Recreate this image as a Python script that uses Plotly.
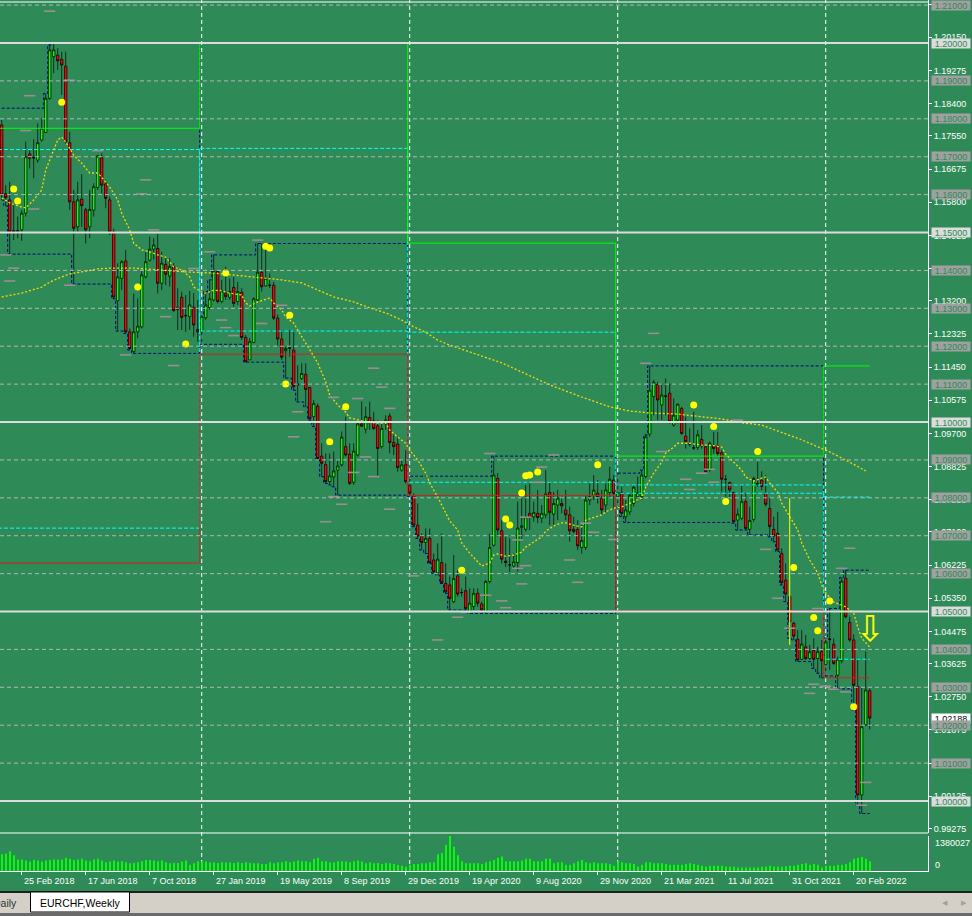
import pandas as pd
import plotly.graph_objects as go

# ---------------------------------------------------------------- data
first_bar = "2018-01-21"          # MT4 weekly bars are dated on Sundays

opens = [
    1.1784,1.1602,1.1586,1.1505,1.1502,1.1507,1.1551,1.1707,1.1696,1.1691,
    1.1744,1.1764,1.1854,1.1964,1.1968,1.1957,1.1939,1.1737,1.1581,1.1515,
    1.1588,1.1560,1.1515,1.1559,1.1619,1.1697,1.1628,1.1586,1.1502,1.1320,
    1.1379,1.1425,1.1238,1.1186,1.1238,1.1251,1.1383,1.1427,1.1456,1.1458,
    1.1366,1.1416,1.1385,1.1410,1.1303,1.1329,1.1280,1.1278,1.1303,1.1244,
    1.1238,1.1275,1.1302,1.1322,1.1397,1.1318,1.1340,1.1329,1.1355,1.1318,
    1.1342,1.1223,1.1164,1.1210,1.1322,1.1395,1.1359,1.1360,1.1361,1.1274,
    1.1219,1.1188,1.1194,1.1190,1.1098,1.1115,1.1126,1.1091,1.1014,1.1042,
    1.0910,1.0888,1.0843,1.0855,1.0873,1.0887,1.0935,1.0915,1.0841,1.0913,
    1.0995,1.0981,1.1012,1.1003,1.0990,1.0935,1.0995,1.1016,1.0946,1.0942,
    1.0873,1.0887,1.0834,1.0806,1.0728,1.0699,1.0682,1.0693,1.0636,1.0602,
    1.0629,1.0574,1.0570,1.0526,1.0594,1.0550,1.0555,1.0500,1.0513,1.0548,
    1.0520,1.0500,1.0579,1.0675,1.0851,1.0713,1.0633,1.0623,1.0620,1.0629,
    1.0722,1.0717,1.0759,1.0750,1.0759,1.0746,1.0755,1.0814,1.0757,1.0781,
    1.0785,1.0768,1.0755,1.0717,1.0717,1.0669,1.0669,1.0794,1.0807,1.0812,
    1.0799,1.0781,1.0814,1.0847,1.0803,1.0814,1.0750,1.0763,1.0785,1.0803,
    1.0803,1.0856,1.0968,1.1067,1.1099,1.1045,1.1067,1.1076,1.0992,1.1005,
    1.1036,1.0963,1.0942,1.0931,1.0933,1.0954,1.0935,1.0873,1.0937,1.0937,
    1.0919,1.0849,1.0840,1.0814,1.0741,1.0746,1.0790,1.0717,1.0743,1.0838,
    1.0846,1.0812,1.0772,1.0717,1.0706,1.0653,1.0583,1.0539,1.0469,1.0427,
    1.0374,1.0407,1.0376,1.0397,1.0376,1.0394,1.0360,1.0428,1.0414,1.0332,
    1.0370,1.0588,1.0471,1.0425,1.0302,1.0016,1.0201,1.0291,
]
highs = [
    1.1797,1.1625,1.1634,1.1577,1.1542,1.1559,1.1740,1.1718,1.1746,1.1788,
    1.1801,1.1867,1.1995,1.2000,1.1986,1.1977,1.1977,1.1766,1.1612,1.1634,
    1.1654,1.1565,1.1612,1.1630,1.1705,1.1709,1.1639,1.1595,1.1510,1.1419,
    1.1427,1.1454,1.1247,1.1339,1.1326,1.1401,1.1449,1.1489,1.1485,1.1496,
    1.1449,1.1436,1.1432,1.1419,1.1353,1.1344,1.1335,1.1346,1.1340,1.1322,
    1.1282,1.1344,1.1375,1.1441,1.1401,1.1375,1.1410,1.1379,1.1383,1.1370,
    1.1353,1.1230,1.1221,1.1329,1.1471,1.1471,1.1463,1.1392,1.1370,1.1284,
    1.1243,1.1199,1.1243,1.1243,1.1150,1.1155,1.1155,1.1093,1.1058,1.1049,
    1.0944,1.0917,1.0917,1.0922,1.0900,1.0975,1.1014,1.0944,1.0944,1.1001,
    1.1054,1.1040,1.1054,1.1027,1.1005,1.0996,1.1018,1.1023,1.0966,1.0961,
    1.0900,1.0926,1.0857,1.0812,1.0785,1.0706,1.0719,1.0719,1.0653,1.0680,
    1.0706,1.0627,1.0592,1.0649,1.0609,1.0561,1.0592,1.0561,1.0561,1.0561,
    1.0526,1.0583,1.0706,1.0910,1.0865,1.0741,1.0697,1.0693,1.0653,1.0790,
    1.0803,1.0834,1.0838,1.0790,1.0821,1.0781,1.0873,1.0843,1.0816,1.0821,
    1.0803,1.0821,1.0777,1.0750,1.0741,1.0728,1.0807,1.0838,1.0860,1.0847,
    1.0821,1.0838,1.0882,1.0860,1.0865,1.0829,1.0794,1.0812,1.0834,1.0856,
    1.0873,1.0966,1.1148,1.1111,1.1106,1.1102,1.1115,1.1102,1.1062,1.1049,
    1.1040,1.1014,1.0983,1.1027,1.0979,1.0992,1.0939,1.0948,1.0974,1.0974,
    1.0926,1.0860,1.0843,1.0816,1.0772,1.0834,1.0812,1.0777,1.0856,1.0895,
    1.0870,1.0860,1.0799,1.0750,1.0763,1.0667,1.0627,1.0544,1.0473,1.0451,
    1.0451,1.0438,1.0412,1.0429,1.0407,1.0425,1.0430,1.0508,1.0429,1.0381,
    1.0590,1.0609,1.0486,1.0440,1.0376,1.0300,1.0394,1.0297,
]
lows = [
    1.1586,1.1570,1.1443,1.1480,1.1485,1.1478,1.1542,1.1669,1.1643,1.1684,
    1.1740,1.1762,1.1850,1.1920,1.1929,1.1863,1.1735,1.1560,1.1364,1.1502,
    1.1515,1.1471,1.1485,1.1542,1.1612,1.1603,1.1564,1.1493,1.1325,1.1240,
    1.1348,1.1234,1.1190,1.1181,1.1221,1.1247,1.1379,1.1423,1.1429,1.1339,
    1.1348,1.1361,1.1357,1.1291,1.1243,1.1243,1.1238,1.1243,1.1225,1.1212,
    1.1205,1.1269,1.1297,1.1318,1.1313,1.1313,1.1322,1.1322,1.1304,1.1309,
    1.1216,1.1158,1.1164,1.1208,1.1318,1.1344,1.1357,1.1353,1.1269,1.1203,
    1.1164,1.1116,1.1172,1.1084,1.1053,1.1111,1.1040,1.1005,1.0988,1.0900,
    1.0856,1.0838,1.0834,1.0829,1.0807,1.0882,1.0909,1.0834,1.0834,1.0909,
    1.0988,1.0970,1.0979,1.0979,1.0858,1.0930,1.0979,1.0917,1.0913,1.0869,
    1.0869,1.0838,1.0803,1.0724,1.0693,1.0662,1.0653,1.0627,1.0601,1.0596,
    1.0574,1.0548,1.0504,1.0522,1.0539,1.0539,1.0504,1.0495,1.0504,1.0513,
    1.0500,1.0497,1.0574,1.0671,1.0697,1.0627,1.0618,1.0605,1.0614,1.0605,
    1.0689,1.0711,1.0715,1.0737,1.0733,1.0733,1.0746,1.0728,1.0726,1.0741,
    1.0759,1.0741,1.0684,1.0706,1.0662,1.0653,1.0662,1.0781,1.0794,1.0785,
    1.0755,1.0763,1.0799,1.0772,1.0777,1.0750,1.0735,1.0755,1.0777,1.0790,
    1.0794,1.0851,1.0961,1.1018,1.1005,1.1005,1.1018,1.0996,1.0988,1.0996,
    1.0966,1.0930,1.0935,1.0926,1.0926,1.0930,1.0865,1.0869,1.0917,1.0909,
    1.0816,1.0803,1.0799,1.0733,1.0715,1.0741,1.0715,1.0702,1.0737,1.0829,
    1.0820,1.0777,1.0697,1.0684,1.0658,1.0570,1.0526,1.0429,1.0425,1.0368,
    1.0372,1.0372,1.0372,1.0350,1.0337,1.0325,1.0330,1.0346,1.0359,1.0296,
    1.0363,1.0482,1.0420,1.0240,0.9989,0.9967,1.0198,1.0189,
]
closes = [
    1.1599,1.1592,1.1502,1.1502,1.1505,1.1551,1.1700,1.1696,1.1698,1.1737,
    1.1775,1.1854,1.1982,1.1982,1.1953,1.1942,1.1740,1.1581,1.1511,1.1586,
    1.1571,1.1507,1.1561,1.1621,1.1702,1.1625,1.1590,1.1502,1.1330,1.1383,
    1.1423,1.1238,1.1194,1.1238,1.1253,1.1388,1.1423,1.1456,1.1467,1.1366,
    1.1419,1.1390,1.1410,1.1294,1.1297,1.1276,1.1281,1.1309,1.1256,1.1238,
    1.1278,1.1309,1.1325,1.1397,1.1318,1.1346,1.1331,1.1344,1.1313,1.1344,
    1.1223,1.1159,1.1212,1.1325,1.1395,1.1357,1.1379,1.1361,1.1274,1.1219,
    1.1171,1.1194,1.1196,1.1093,1.1100,1.1128,1.1086,1.1009,1.1049,1.0904,
    1.0891,1.0843,1.0858,1.0871,1.0884,1.0960,1.0913,1.0838,1.0923,1.0995,
    1.0989,1.1014,1.0998,1.0983,1.0930,1.0983,1.1005,1.0946,1.0935,1.0880,
    1.0887,1.0843,1.0812,1.0728,1.0699,1.0682,1.0693,1.0629,1.0605,1.0638,
    1.0576,1.0552,1.0534,1.0587,1.0546,1.0550,1.0508,1.0522,1.0548,1.0522,
    1.0504,1.0579,1.0669,1.0860,1.0715,1.0638,1.0629,1.0623,1.0631,1.0720,
    1.0726,1.0750,1.0748,1.0761,1.0748,1.0759,1.0810,1.0761,1.0785,1.0799,
    1.0779,1.0755,1.0713,1.0711,1.0673,1.0687,1.0794,1.0803,1.0820,1.0803,
    1.0768,1.0821,1.0849,1.0812,1.0814,1.0759,1.0768,1.0807,1.0828,1.0814,
    1.0860,1.0961,1.1084,1.1105,1.1058,1.1071,1.1069,1.1001,1.1018,1.1047,
    1.0970,1.0948,1.0942,1.0932,1.0966,1.0937,1.0869,1.0944,1.0930,1.0917,
    1.0849,1.0849,1.0821,1.0737,1.0757,1.0790,1.0719,1.0740,1.0851,1.0836,
    1.0830,1.0783,1.0724,1.0699,1.0662,1.0576,1.0546,1.0473,1.0435,1.0372,
    1.0414,1.0376,1.0394,1.0374,1.0394,1.0370,1.0420,1.0426,1.0363,1.0374,
    1.0580,1.0486,1.0425,1.0305,1.0016,1.0196,1.0293,1.02188,
]
# tick volume, thousands
volume_k = [
    658,685,781,617,452,452,411,370,438,411,370,411,438,452,452,452,521,
    480,438,452,480,411,384,452,480,411,343,370,411,370,384,343,301,315,343,384,438,438,411,384,411,
    343,301,315,315,370,411,247,301,384,370,370,343,343,315,343,343,343,315,343,315,
    343,315,301,301,274,274,343,301,343,343,384,343,370,411,384,384,343,480,521,384,
    384,343,343,384,384,370,343,384,411,370,301,343,301,315,274,315,301,274,233,206,
    164,247,274,274,301,301,343,343,658,712,1028,1380.027,959,617,384,301,301,301,301,
    274,343,384,438,521,575,384,384,384,384,
    411,480,480,384,384,384,480,480,301,343,
    343,247,247,301,384,438,343,301,343,301,
    301,301,274,206,384,343,301,301,274,164,
    247,343,343,301,301,301,274,247,247,247,
    247,274,301,274,247,206,178,206,206,206,
    206,178,164,164,137,137,137,137,137,137,
    164,178,206,178,178,164,192,206,206,247,
    274,301,247,274,247,137,206,206,206,247,
    247,274,343,480,521,548,480,384,
]

# moving averages: (bar index, value)
ma_fast_idx = [0,2,5,6,8,10,11,13,14,15,16,18,20,22,24,25,27,29,30,32,33,35,37,39,41,43,45,47,48,
               50,51,53,55,57,60,61,62,64,66,67,68,70,71,73,74,76,79,81,82,84,86,87,91,94,96,97,99,
               101,102,104,106,107,109,111,112,114,115,117,119,120,122,123,124,126,128,130,131,133,
               135,136,138,140,141,143,145,146,148,150,151,153,155,157,160,161,163,165,166,168,169,
               172,175,177,180,181,183,185,186,188,190,191,192,194,195,197,199,200,202,204,205,206,
               208,210,211,213,214,215,217]
ma_fast_val = [1.1591,1.1578,1.1567,1.1565,1.1586,1.1612,1.1665,1.1718,1.1744,1.1752,1.1739,1.1704,
               1.1683,1.1657,1.1657,1.1646,1.1620,1.1586,1.1551,1.1507,1.1472,1.1454,1.1449,1.1441,
               1.1435,1.1409,1.1401,1.1383,1.1356,1.1343,1.1340,1.1348,1.1346,1.1340,1.1335,1.1314,
               1.1306,1.1317,1.1325,1.1327,1.1314,1.1296,1.1277,1.1261,1.1243,1.1209,1.1156,1.1106,
               1.1071,1.1045,1.1026,1.1011,1.1000,1.0997,1.0997,1.0979,1.0960,1.0944,1.0926,1.0900,
               1.0865,1.0839,1.0802,1.0760,1.0739,1.0715,1.0681,1.0654,1.0631,1.0620,1.0628,1.0649,
               1.0652,1.0646,1.0649,1.0657,1.0670,1.0683,1.0697,1.0712,1.0726,1.0734,1.0734,1.0728,
               1.0723,1.0741,1.0749,1.0755,1.0763,1.0773,1.0776,1.0786,1.0799,1.0828,1.0865,1.0894,
               1.0918,1.0934,1.0944,1.0944,1.0939,1.0939,1.0934,1.0915,1.0894,1.0873,1.0855,1.0844,
               1.0852,1.0855,1.0839,1.0815,1.0786,1.0749,1.0715,1.0681,1.0636,1.0602,1.0570,1.0549,
               1.0525,1.0517,1.0512,1.0496,1.0459,1.0430,1.0406]
ma_slow_idx = [0,5,10,12,15,17,20,24,27,33,40,46,53,58,63,66,70,75,79,83,88,92,96,100,102,106,109,
               112,125,137,145,152,157,162,169,175,180,185,190,200,207,212,216]
ma_slow_val = [1.1330,1.1340,1.1356,1.1369,1.1383,1.1391,1.1396,1.1404,1.1406,1.1406,1.1401,1.1396,
               1.1393,1.1388,1.1383,1.1380,1.1375,1.1367,1.1348,1.1330,1.1317,1.1301,1.1288,1.1269,
               1.1256,1.1237,1.1216,1.1203,1.1156,1.1098,1.1066,1.1040,1.1029,1.1024,1.1021,1.1013,
               1.1008,1.0998,1.0992,1.0953,1.0921,1.0894,1.0871]

# yellow signal dots
dot_idx = [3,4,15,34,46,56,66,67,71,72,82,86,115,126,127,130,131,132,134,149,173,178,181,189,198,203,
           204,207,213]
dot_val = [1.1615,1.1583,1.1844,1.1356,1.1206,1.1393,1.1464,1.1459,1.1100,1.1282,1.0948,1.1040,1.0609,
           1.0744,1.0728,1.0813,1.0858,1.0860,1.0868,1.0887,1.1045,1.0988,1.0790,1.0922,1.0616,1.0484,
           1.0449,1.0528,1.0249]

# short grey dash markers
mark_idx = [12,7,6,36,35,24,17,38,1,3,2,17,52,48,64,8,31,41,55,58,65,70,43,56,93,95,89,83,74,97,73,91,
            88,93,83,85,81,97,103,122,138,135,134,131,129,146,148,153,131,129,142,144,130,125,126,116,
            114,163,161,165,175,178,171,172,177,184,191,212,210,194,197,204,203,202,206,208,211,216,
            215,109,121]
mark_val = [1.2084,1.1861,1.1769,1.1639,1.1602,1.1716,1.1902,1.1507,1.1441,1.1406,1.1372,1.1361,1.1449,
            1.1405,1.1480,1.1562,1.1177,1.1278,1.1269,1.1228,1.1260,1.1308,1.1149,1.1249,1.1142,1.1092,
            1.1062,1.1065,1.1027,1.1036,1.0961,1.0908,1.0867,1.0856,1.0803,1.0783,1.0737,1.0770,1.0594,
            1.0917,1.0913,1.0881,1.0841,1.0749,1.0689,1.0733,1.0709,1.0690,1.0621,1.0614,1.0636,1.0577,
            1.0573,1.0528,1.0510,1.0498,1.0485,1.1234,1.1155,1.0922,1.0865,1.0841,1.0849,1.0822,1.0875,
            1.1005,1.0664,1.0667,1.0614,1.0535,1.0456,1.0508,1.0308,1.0284,1.0303,1.0295,1.0288,1.0049,
            0.9989,1.0425,1.0543]

# previous-year levels drawn for each calendar year
years = [2018, 2019, 2020, 2021, 2022]
prev_high = [1.1775, 1.2000, 1.1472, 1.0910, 1.1148]
prev_low = [1.0628, 1.1179, 1.0806, 1.0502, 1.0325]
prev_open = [1.0720, 1.1722, 1.1237, 1.0834, 1.0802]
prev_close = [1.1719, 1.1240, 1.0841, 1.0812, 1.0374]
seed_high_2018 = 1.1828     # 2018 high made before the first visible bar
seed_low_2018 = 1.1600

round_levels = [1.00, 1.05, 1.10, 1.15, 1.20]
minor_levels = [1.01, 1.02, 1.03, 1.04, 1.06, 1.07, 1.08, 1.09, 1.11, 1.12, 1.13, 1.14,
                1.16, 1.17, 1.18, 1.19, 1.21]
price_ticks = [1.21025, 1.20150, 1.19275, 1.18400, 1.17550, 1.16675, 1.15800, 1.14925, 1.14050,
               1.13200, 1.12325, 1.11450, 1.10575, 1.09700, 1.08825, 1.07950, 1.07100, 1.06225,
               1.05350, 1.04475, 1.03625, 1.02750, 1.01875, 1.01000, 1.00125, 0.99275]
date_ticks = ["2017-11-05", "2018-02-25", "2018-06-17", "2018-10-07", "2019-01-27", "2019-05-19",
              "2019-09-08", "2019-12-29", "2020-04-19", "2020-08-09", "2020-11-29", "2021-03-21",
              "2021-07-11", "2021-10-31", "2022-02-20"]
last_price = 1.02188
vol_max = 1380027
arrow_idx, arrow_price = 217, 1.0456
vline_idx, vline_lo, vline_hi = 197, 1.0412, 1.0799

# ---------------------------------------------------------------- layout constants
W, H = 972, 916
BG = "#2E8B57"
FONT = "Liberation Sans"
PLOT_R = 928 / W
PRICE_B = (H - 833) / H
VOL_B = (H - 871) / H
VOL_T = (H - 836) / H
price_range = [0.99156, 1.21135]

dates = pd.date_range(first_bar, periods=len(closes), freq="7D")
x0 = dates[0] - pd.Timedelta(days=1.7 / 4 * 7)
x1 = x0 + pd.Timedelta(days=928 / 4 * 7)
half = pd.Timedelta(days=3.5)

fig = go.Figure()

# volume
fig.add_trace(go.Bar(x=dates, y=[v * 1000 for v in volume_k], yaxis="y2",
                     marker=dict(color="#00FF00", line=dict(width=0)),
                     width=1.75 * 86400000, hoverinfo="skip"))

# candles
fig.add_trace(go.Candlestick(
    x=dates, open=opens, high=highs, low=lows, close=closes,
    increasing=dict(fillcolor="#00FF00", line=dict(color="black", width=0.7)),
    decreasing=dict(fillcolor="#FF0000", line=dict(color="black", width=0.7)),
    whiskerwidth=0, hoverinfo="skip"))

# running yearly high / low (navy dashed steps)
run_hi, run_lo = [], []
cur = None
for d, h, l in zip(dates, highs, lows):
    if d.year != cur:
        cur = d.year
        ch = seed_high_2018 if cur == 2018 else h
        cl = seed_low_2018 if cur == 2018 else l
    ch, cl = max(ch, h), min(cl, l)
    run_hi.append(ch)
    run_lo.append(cl)
for ser in (run_hi, run_lo):
    fig.add_trace(go.Scatter(x=dates, y=ser, mode="lines", line_shape="hvh",
                             line=dict(color="#000080", width=1, dash="3px,2px"),
                             hoverinfo="skip"))


def year_span(y):
    idx = [i for i, d in enumerate(dates) if d.year == y]
    s = dates[idx[0]] - half if idx[0] > 0 else x0 - pd.Timedelta(days=14)
    e = dates[idx[-1]] + half if idx[-1] < len(dates) - 1 else dates[-1]
    return s, e


def step_xy(levels):
    xs, ys = [], []
    for y, lv in zip(years, levels):
        s, e = year_span(y)
        xs += [s, e]
        ys += [lv, lv]
    return xs, ys


for lv in (prev_open, prev_close):
    xs, ys = step_xy(lv)
    fig.add_trace(go.Scatter(x=xs, y=ys, mode="lines",
                             line=dict(color="#00FFFF", width=1, dash="4px,2px"), hoverinfo="skip"))
xs, ys = step_xy(prev_low)
fig.add_trace(go.Scatter(x=xs, y=ys, mode="lines", line=dict(color="#D02020", width=1), hoverinfo="skip"))
xs, ys = step_xy(prev_high)
fig.add_trace(go.Scatter(x=xs, y=ys, mode="lines", line=dict(color="#00FF00", width=1), hoverinfo="skip"))

# moving averages
for idx, val in ((ma_slow_idx, ma_slow_val), (ma_fast_idx, ma_fast_val)):
    fig.add_trace(go.Scatter(x=[dates[i] for i in idx], y=val, mode="lines",
                             line=dict(color="#FFD700", width=1.3, dash="2px,2px"), hoverinfo="skip"))

# yellow vertical line object
fig.add_trace(go.Scatter(x=[dates[vline_idx]] * 2, y=[vline_lo, vline_hi], mode="lines",
                         line=dict(color="#FFFF00", width=1), hoverinfo="skip"))

# grey dash markers
fig.add_trace(go.Scatter(x=[dates[i] for i in mark_idx], y=mark_val, mode="markers",
                         marker=dict(symbol="line-ew", size=8,
                                     line=dict(color="#9C8C94", width=1.6)), hoverinfo="skip"))
# yellow dots
fig.add_trace(go.Scatter(x=[dates[i] for i in dot_idx], y=dot_val, mode="markers",
                         marker=dict(color="#FFFF00", size=7, line=dict(width=0)), hoverinfo="skip"))

shapes = []
# period separators
for i in range(1, len(dates)):
    if dates[i].year != dates[i - 1].year:
        shapes.append(dict(type="line", xref="x", yref="paper", x0=dates[i], x1=dates[i],
                           y0=VOL_B, y1=1, layer="below",
                           line=dict(color="white", width=1, dash="4px,3px")))
for lv in minor_levels:
    shapes.append(dict(type="line", xref="paper", yref="y", x0=0, x1=PLOT_R, y0=lv, y1=lv,
                       layer="above", line=dict(color="#B4B4B4", width=1, dash="4px,3px")))
for lv in round_levels:
    shapes.append(dict(type="line", xref="paper", yref="y", x0=0, x1=PLOT_R, y0=lv, y1=lv,
                       layer="above", line=dict(color="#DCDCDC", width=2)))
# pane borders
for yy in (PRICE_B, 1 - 2 / H):
    shapes.append(dict(type="line", xref="paper", yref="paper", x0=0, x1=PLOT_R, y0=yy, y1=yy,
                       line=dict(color="white", width=1)))
# tab bar
shapes.append(dict(type="rect", xref="paper", yref="paper", x0=0, x1=1, y0=0, y1=(H - 892) / H,
                   fillcolor="#D4D0C8", line=dict(width=0), layer="above"))
shapes.append(dict(type="line", xref="paper", yref="paper", x0=0, x1=1,
                   y0=(H - 892) / H, y1=(H - 892) / H, line=dict(color="#202020", width=2)))
shapes.append(dict(type="rect", xref="paper", yref="paper", x0=30.5 / W, x1=129.5 / W,
                   y0=(H - 912) / H, y1=(H - 892) / H, fillcolor="white",
                   line=dict(color="black", width=1), layer="above"))
shapes.append(dict(type="rect", xref="paper", yref="paper", x0=0, x1=1, y0=0, y1=3 / H,
                   fillcolor="#6A6A6A", line=dict(width=0), layer="above"))

ann = []
ann.append(dict(text=f"{last_price:.5f}", xref="paper", x=931 / W, xanchor="left", yref="y",
                y=last_price, yanchor="middle", showarrow=False, bgcolor="white", width=38,
                height=9, borderpad=0, font=dict(family=FONT, size=9, color="black")))
for lv in minor_levels:
    ann.append(dict(text=f"{lv:.5f}", xref="paper", x=931 / W, xanchor="left", yref="y", y=lv,
                    yanchor="middle", showarrow=False, bgcolor="#A0A0A0", width=38, height=9,
                    borderpad=0, font=dict(family=FONT, size=9, color="#2E8B57")))
for lv in round_levels:
    ann.append(dict(text=f"{lv:.5f}", xref="paper", x=931 / W, xanchor="left", yref="y", y=lv,
                    yanchor="middle", showarrow=False, bgcolor="#DCDCDC", width=38, height=9,
                    borderpad=0, font=dict(family=FONT, size=9, color="#2E8B57")))
for d in date_ticks:
    ts = pd.Timestamp(d)
    ann.append(dict(text=f"{ts.day} {ts:%b %Y}", xref="x", x=ts, xanchor="left", yref="paper",
                    y=(H - 881) / H, yanchor="middle", showarrow=False,
                    font=dict(family=FONT, size=9, color="white")))
ann.append(dict(text=str(vol_max), xref="paper", x=933 / W, xanchor="left", yref="y2", y=vol_max,
                yanchor="middle", yshift=-7, showarrow=False,
                font=dict(family=FONT, size=9, color="white")))
ann.append(dict(text="0", xref="paper", x=933 / W, xanchor="left", yref="y2", y=0,
                yanchor="middle", yshift=6, showarrow=False,
                font=dict(family=FONT, size=9, color="white")))
ann.append(dict(text="\u21e9", xref="x", x=dates[arrow_idx], xanchor="center", yref="y",
                y=arrow_price, yanchor="middle", showarrow=False,
                font=dict(family="DejaVu Sans", size=36, color="#FFFF00")))
ann.append(dict(text="EURCHF,Weekly", xref="paper", x=80 / W, xanchor="center", yref="paper",
                y=(H - 902.5) / H, yanchor="middle", showarrow=False,
                font=dict(family=FONT, size=10.5, color="black")))
ann.append(dict(text="Daily", xref="paper", x=19 / W, xanchor="right", yref="paper",
                y=(H - 902.5) / H, yanchor="middle", showarrow=False,
                font=dict(family=FONT, size=10.5, color="#303030")))
for xx, ch in ((945, "\u25c0"), (964, "\u25b6")):
    ann.append(dict(text=ch, xref="paper", x=xx / W, xanchor="center", yref="paper",
                    y=(H - 903) / H, yanchor="middle", showarrow=False,
                    font=dict(family="DejaVu Sans", size=7, color="#A0A0A0")))

fig.update_layout(
    width=W, height=H, autosize=False, margin=dict(l=0, r=0, t=0, b=0),
    paper_bgcolor=BG, plot_bgcolor=BG, showlegend=False, boxgap=0.12,
    shapes=shapes, annotations=ann,
    xaxis=dict(domain=[0, PLOT_R], anchor="y2", type="date", range=[x0, x1],
               rangeslider=dict(visible=False), showgrid=False, zeroline=False,
               showline=True, linecolor="white", linewidth=1,
               tickvals=[pd.Timestamp(d) for d in date_ticks], ticks="outside", ticklen=3,
               tickcolor="white", showticklabels=False),
    yaxis=dict(domain=[PRICE_B, 1], anchor="x", side="right", range=price_range,
               showgrid=False, zeroline=False, showline=True, linecolor="white", linewidth=1,
               tickvals=price_ticks, ticktext=[f"{v:.5f}" for v in price_ticks],
               ticks="outside", ticklen=3, tickcolor="white",
               tickfont=dict(family=FONT, size=9, color="white")),
    yaxis2=dict(domain=[VOL_B, VOL_T], anchor="x", side="right", range=[0, vol_max],
                showgrid=False, zeroline=False, showline=True, linecolor="white", linewidth=1,
                showticklabels=False, ticks=""),
)

fig.write_html("out.html", config={"displayModeBar": False},
               post_script="document.body.style.margin='0';document.body.style.overflow='hidden';")
